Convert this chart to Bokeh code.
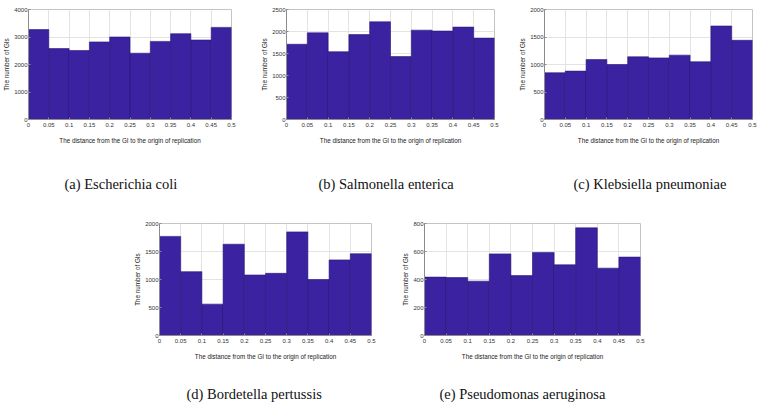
from bokeh.plotting import figure
from bokeh.models import FixedTicker, Range1d, Title, Spacer, LinearAxis
from bokeh.layouts import row, column
from bokeh.embed import file_html
from bokeh.resources import INLINE

# ---- data ----
bin_edges = [0.0, 0.05, 0.1, 0.15, 0.2, 0.25, 0.3, 0.35, 0.4, 0.45, 0.5]
x_tick_labels = ["0", "0.05", "0.1", "0.15", "0.2", "0.25", "0.3", "0.35", "0.4", "0.45", "0.5"]

ecoli_counts = [3270, 2580, 2510, 2820, 3000, 2410, 2840, 3120, 2890, 3350]
salmonella_counts = [1710, 1970, 1540, 1930, 2220, 1430, 2030, 2010, 2100, 1850]
klebsiella_counts = [850, 880, 1090, 1000, 1140, 1120, 1170, 1050, 1700, 1440]
bordetella_counts = [1770, 1140, 560, 1630, 1080, 1110, 1850, 1000, 1350, 1460]
pseudomonas_counts = [417, 414, 388, 583, 428, 593, 505, 769, 481, 560]

captions = ["(a) Escherichia coli", "(b) Salmonella  enterica", "(c) Klebsiella pneumoniae",
            "(d) Bordetella pertussis", "(e) Pseudomonas aeruginosa"]
y_maxes = [4000, 2500, 2000, 2000, 800]
y_steps = [1000, 500, 500, 500, 200]

x_label = "The distance from the GI to the origin of replication"
y_label = "The number of GIs"

BAR = "#3a22a0"
SANS = "Liberation Sans"
SERIF = "Liberation Serif"


def make_panel(counts, ymax, ystep, caption, width, height, left, right, top, bottom,
               cap_offset, cap_gap):
    p = figure(width=width, height=height, output_backend="svg", toolbar_location=None,
               x_range=Range1d(0, 0.5), y_range=Range1d(0, ymax),
               min_border_left=left, min_border_right=right,
               min_border_top=top, min_border_bottom=bottom)
    p.quad(left=bin_edges[:-1], right=bin_edges[1:], bottom=0, top=counts,
           fill_color=BAR, line_color="#2a1878", line_width=0.6)
    p.xaxis.ticker = FixedTicker(ticks=bin_edges)
    p.xaxis.major_label_overrides = {t: s for t, s in zip(bin_edges, x_tick_labels)}
    p.yaxis.ticker = FixedTicker(ticks=list(range(0, ymax + 1, ystep)))
    for ax in (p.xaxis[0], p.yaxis[0]):
        ax.major_label_text_font = SANS
        ax.major_label_text_font_size = "6px"
        ax.major_label_text_color = "#333333"
        ax.axis_label_text_font = SANS
        ax.axis_label_text_font_size = "6.3px"
        ax.axis_label_text_font_style = "normal"
        ax.axis_label_text_color = "#222222"
        ax.major_tick_in = 2
        ax.major_tick_out = 0
        ax.minor_tick_line_color = None
        ax.axis_line_color = "#8c8c8c"
        ax.major_tick_line_color = "#8c8c8c"
    p.xaxis.major_label_standoff = 3
    p.xaxis.axis_label_standoff = 7
    p.yaxis.major_label_standoff = 1
    p.yaxis.axis_label_standoff = 1
    p.xaxis.axis_label = x_label
    p.yaxis.axis_label = y_label
    p.xgrid.grid_line_color = "#e3e3e3"
    p.ygrid.grid_line_color = "#e3e3e3"
    p.outline_line_color = "#c4c4c4"
    p.background_fill_color = "white"
    p.border_fill_color = "white"

    # invisible gap between the x-axis title and the sub-figure caption
    gap = LinearAxis(ticker=FixedTicker(ticks=[]), axis_line_color=None,
                     major_tick_line_color=None, minor_tick_line_color=None,
                     major_tick_in=0, major_tick_out=0, minor_tick_out=0,
                     major_label_standoff=0, axis_label=" ",
                     axis_label_text_font_size="1px", axis_label_standoff=cap_gap)
    p.add_layout(gap, "below")

    cap = Title(text=caption, text_font=SERIF, text_font_size="14.5px",
                text_font_style="normal", text_color="#111111",
                align="left", offset=cap_offset, standoff=0)
    p.add_layout(cap, "below")
    return p


pa = make_panel(ecoli_counts, y_maxes[0], y_steps[0], captions[0],
                253, 210, 23, 22, 7, 88, 36, 23)
pb = make_panel(salmonella_counts, y_maxes[1], y_steps[1], captions[1],
                253, 210, 33, 12, 9, 89, 32, 23)
pc = make_panel(klebsiella_counts, y_maxes[2], y_steps[2], captions[2],
                253, 210, 38, 7, 7, 91, 29, 23)
pd = make_panel(bordetella_counts, y_maxes[3], y_steps[3], captions[3],
                285, 195, 49, 24, 12, 70, 27, 17)
pe = make_panel(pseudomonas_counts, y_maxes[4], y_steps[4], captions[4],
                305, 195, 29, 60, 13, 69, 15, 17)

layout = column(row(pa, pb, pc), row(Spacer(width=110, height=195), pd, pe))

with open("out.html", "w") as f:
    f.write(file_html(layout, INLINE))
